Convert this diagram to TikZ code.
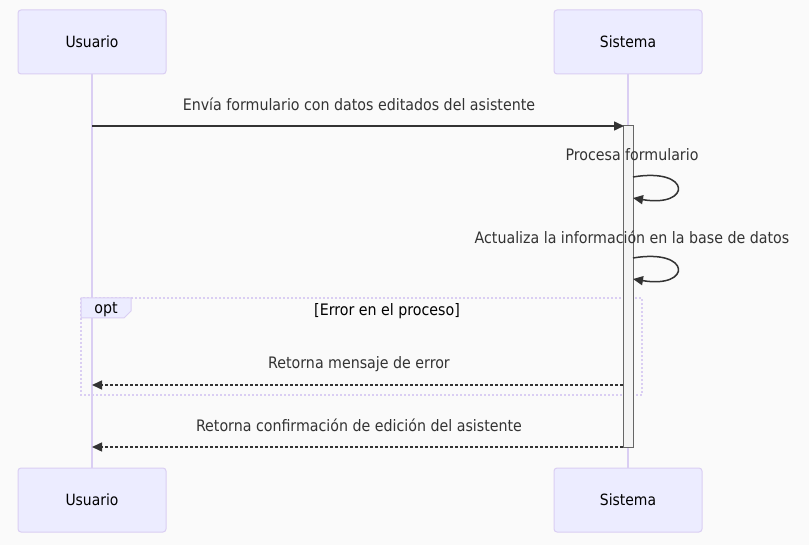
\documentclass[tikz,border=0pt]{standalone}
\usepackage{fontspec}
\setmainfont{DejaVu Sans Condensed}
\usetikzlibrary{arrows.meta}
\definecolor{bg}{HTML}{FAFAFA}
\definecolor{actfill}{HTML}{ECECFF}
\definecolor{actline}{HTML}{DACEF3}
\definecolor{ink}{HTML}{333333}
\definecolor{actvfill}{HTML}{F4F4F4}
\definecolor{actvline}{HTML}{666666}
\tikzset{
  actor/.style={draw=actline, fill=actfill, rounded corners=3pt, line width=1pt,
    minimum width=148pt, minimum height=64pt, inner sep=0pt, font=\fontsize{15.5}{18}\selectfont, text=black},
  lifeline/.style={draw=actline, line width=1.5pt},
  msgtext/.style={font=\fontsize{15.8}{18}\selectfont, text=ink, inner sep=0pt},
  msg/.style={draw=ink, line width=1.5pt, -{Triangle[length=10pt,width=9pt]}},
  reply/.style={msg, dash pattern=on 3pt off 2pt},
  activation/.style={draw=actvline, fill=actvfill, line width=1pt, minimum width=10pt, minimum height=321pt, inner sep=0pt},
  optframe/.style={draw=actline, line width=1.5pt, dash pattern=on 2pt off 2pt},
}
\begin{document}
\begin{tikzpicture}[x=1pt,y=-1pt]
\useasboundingbox[fill=bg] (0,0) rectangle (809,545);
% actors
\node[actor] (ut) at (92,42) {Usuario};
\node[actor] (st) at (628,42) {Sistema};
\node[actor] (ub) at (92,500) {Usuario};
\node[actor] (sb) at (628,500) {Sistema};
\draw[lifeline] (ut.south) -- (ub.north);
\draw[lifeline] (st.south) -- (sb.north);
% opt frame
\draw[optframe] (81,298) rectangle (642,395);
\path[draw=actline, fill=actfill, line width=1pt] (81,298) -- (131,298) -- (131,311) -- (124,318) -- (81,318) -- cycle;
\node[msgtext, text=black] (optlbl) at (106,310) {opt};
\node[msgtext, text=black] (cond) at (387,311) {[Error en el proceso]};
% activation
\node[activation] (act) at (628,286.5) {};
% coordinates
\coordinate (u1) at (92,126);
\coordinate (s1) at (624,126);
\coordinate (s3) at (623,385);
\coordinate (u3) at (92,385);
\coordinate (s4) at (623,447);
\coordinate (u4) at (92,447);
\coordinate (l1a) at (633,177);
\coordinate (l1b) at (633,198);
\coordinate (l2a) at (633,258);
\coordinate (l2b) at (633,279);
% messages
\node[msgtext] (m1) at (359,104) {Envía formulario con datos editados del asistente};
\draw[msg] (u1) -- (s1);
\node[msgtext] (m2) at (632,155) {Procesa formulario};
\draw[msg] (l1a) .. controls (692,167) and (692,208) .. (l1b);
\node[msgtext] (m3) at (632,237) {Actualiza la información en la base de datos};
\draw[msg] (l2a) .. controls (692,248) and (692,289) .. (l2b);
\node[msgtext] (m4) at (359,364) {Retorna mensaje de error};
\draw[reply] (s3) -- (u3);
\node[msgtext] (m5) at (359,425) {Retorna confirmación de edición del asistente};
\draw[reply] (s4) -- (u4);
\end{tikzpicture}
\end{document}
